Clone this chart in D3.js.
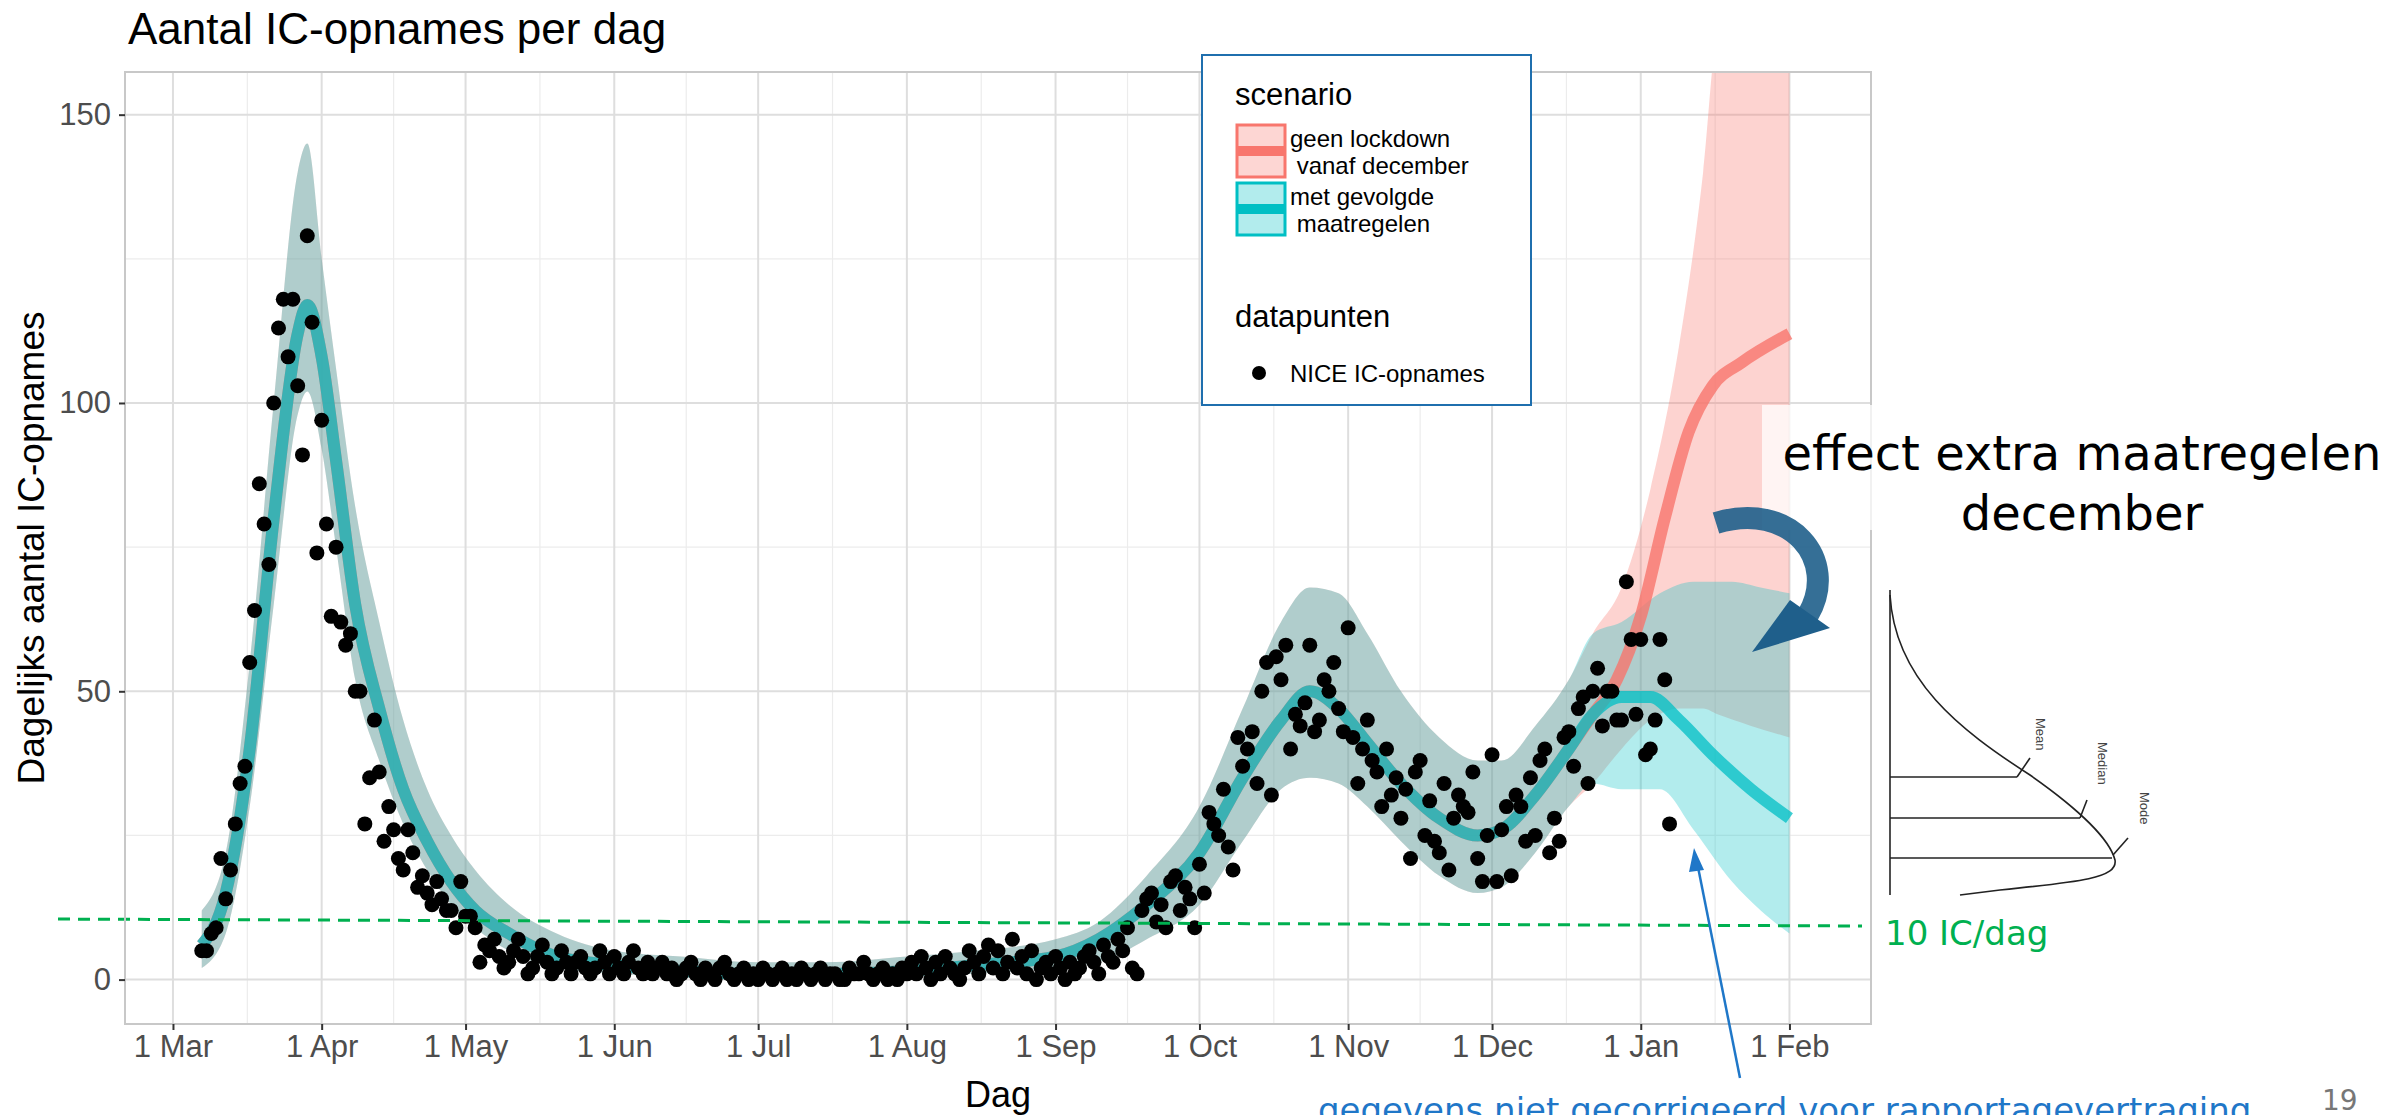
<!DOCTYPE html>
<html><head><meta charset="utf-8">
<script src="https://cdn.jsdelivr.net/npm/d3@7"></script>
<style>
body{margin:0;background:#fff;}
svg{font-family:"Liberation Sans",Arial,sans-serif;}
</style></head><body>
<svg id="chart" width="2397" height="1115"></svg>
<script>
// ---- data ----
const dotStart = '2020-03-07';
const dotValues = [
  5,5,8,9,21,14,19,27,34,37,55,64,86,79,72,100,113,118,108,118,103,91,129,114,74,
  97,79,63,75,62,58,60,50,50,27,35,45,36,24,30,26,21,19,26,22,16,18,15,13,17,14,12,12,9,17,
  11,11,9,3,6,5,7,4,2,3,5,7,4,1,2,4,6,3,1,2,5,3,1,3,4,2,1,2,5,3,1,
  4,2,1,3,5,2,1,3,1,2,3,1,2,0,1,2,3,1,0,2,1,0,2,3,1,0,1,2,0,1,
  0,2,1,0,1,2,0,1,0,2,1,0,1,2,0,1,1,0,0,2,1,1,3,1,0,1,2,0,1,0,2,
  1,3,1,4,2,0,3,1,4,2,1,0,2,5,3,1,4,6,2,5,1,3,7,2,4,1,5,0,2,3,1,
  4,2,0,3,1,2,4,5,3,1,6,4,3,7,5,9,2,1,12,14,15,10,13,9,17,18,12,16,14,9,
  20,15,29,27,25,33,23,19,42,37,40,43,34,50,55,32,56,52,58,40,46,44,48,58,43,45,52,50,55,47,43,
  61,42,34,40,45,38,36,30,40,32,35,28,33,21,36,38,25,31,24,22,34,19,28,32,30,29,36,21,17,25,
  39,17,26,30,18,32,30,24,35,25,38,40,22,28,24,42,43,37,47,49,34,50,54,44,50,50,45,45,69,59,46,
  59,39,40,45,59,52,27
];

// shared model fit (before scenarios split)
const fitDates = ['2020-03-07','2020-03-12','2020-03-17','2020-03-22','2020-03-27','2020-03-29','2020-04-01','2020-04-04','2020-04-08','2020-04-13','2020-04-18','2020-04-23','2020-04-28','2020-05-03','2020-05-10','2020-05-20','2020-06-01','2020-06-15','2020-07-01','2020-07-15','2020-08-01','2020-08-15','2020-09-01','2020-09-10','2020-09-20','2020-10-01','2020-10-10','2020-10-18','2020-10-24','2020-10-30','2020-11-05','2020-11-12','2020-11-20','2020-11-28','2020-12-03','2020-12-10','2020-12-17','2020-12-22'];
const fitMid = [6,15,40,80,112,117,108,90,65,47,33,24,17,12,8,4,2.5,1.5,1,1,1.5,2.5,4,7,13,22,35,45,50,47,41,34,28,25,26,32,40,46];
const fitLo  = [2,8,30,65,98,102,92,75,52,38,27,19,13,9,5,2,1,0.5,0,0,0.5,1,2,3,7,13,24,33,35,34,30,24,18,15,16,22,30,34];
const fitHi  = [12,22,55,100,140,145,125,106,82,62,45,33,25,19,13,8,5,4,3,3,4,5,7,10,18,30,47,62,68,67,60,50,42,38,38,44,52,60];

// scenario: geen lockdown vanaf december
const redDates = ['2020-12-22','2020-12-27','2021-01-01','2021-01-06','2021-01-11','2021-01-16','2021-01-22','2021-02-01'];
const redMid   = [46,52,63,80,95,103,107,112];
const redBandDates = ['2020-12-22','2020-12-28','2021-01-03','2021-01-09','2021-01-14','2021-01-17','2021-01-24','2021-02-01'];
const redLo = [34,40,45,47,47,46,44,42];
const redHi = [60,68,85,110,140,165,175,180];

// scenario: met gevolgde maatregelen
const tealDates = ['2020-12-22','2020-12-28','2021-01-03','2021-01-09','2021-01-16','2021-01-24','2021-02-01'];
const tealMid   = [46,49,49,45,39,33,28];
const tealBandDates = ['2020-12-22','2020-12-28','2021-01-05','2021-01-12','2021-01-20','2021-01-26','2021-02-01'];
const tealLo = [34,33,33,26,17,12,8];
const tealHi = [60,62,67,69,69,68,67];

const xTickDates = ['2020-03-01','2020-04-01','2020-05-01','2020-06-01','2020-07-01','2020-08-01','2020-09-01','2020-10-01','2020-11-01','2020-12-01','2021-01-01','2021-02-01'];
const xTickLabels = ['1 Mar','1 Apr','1 May','1 Jun','1 Jul','1 Aug','1 Sep','1 Oct','1 Nov','1 Dec','1 Jan','1 Feb'];
const yTicks = [0,50,100,150];
const thresholdValue = 10.5;

// ---- layout ----
const parse = d3.utcParse('%Y-%m-%d');
const svg = d3.select('#chart');
const margin = {left:125, top:72, right:526, bottom:91};
const W = 2397, H = 1115;

const x = d3.scaleUtc()
  .domain([parse('2020-02-20'), parse('2021-02-18')])
  .range([margin.left, W - margin.right]);
const y = d3.scaleLinear().domain([-7.7, 157.4]).range([H - margin.bottom, margin.top]);

const RED = '#F8766D', TEAL = '#00BFC4';

svg.append('defs').append('clipPath').attr('id','panel').append('rect')
  .attr('x', x.range()[0]).attr('y', y.range()[1])
  .attr('width', x.range()[1]-x.range()[0]).attr('height', y.range()[0]-y.range()[1]);

// grid
const grid = svg.append('g');
const minorX = xTickDates.slice(0,-1).map((d,i) => new Date((parse(d).getTime()+parse(xTickDates[i+1]).getTime())/2));
grid.selectAll('.mx').data(minorX).enter().append('line')
  .attr('x1',d=>x(d)).attr('x2',d=>x(d)).attr('y1',y.range()[1]).attr('y2',y.range()[0])
  .attr('stroke','#ececec').attr('stroke-width',1.2);
grid.selectAll('.my').data([25,75,125]).enter().append('line')
  .attr('y1',d=>y(d)).attr('y2',d=>y(d)).attr('x1',x.range()[0]).attr('x2',x.range()[1])
  .attr('stroke','#ececec').attr('stroke-width',1.2);
grid.selectAll('.gx').data(xTickDates.map(parse)).enter().append('line')
  .attr('x1',d=>x(d)).attr('x2',d=>x(d)).attr('y1',y.range()[1]).attr('y2',y.range()[0])
  .attr('stroke','#dedede').attr('stroke-width',2);
grid.selectAll('.gy').data(yTicks).enter().append('line')
  .attr('y1',d=>y(d)).attr('y2',d=>y(d)).attr('x1',x.range()[0]).attr('x2',x.range()[1])
  .attr('stroke','#dedede').attr('stroke-width',2);

// bands
const plot = svg.append('g').attr('clip-path','url(#panel)');
const area = d3.area().x(d=>x(d.t)).y0(d=>y(d.lo)).y1(d=>y(d.hi)).curve(d3.curveMonotoneX);
const line = d3.line().x(d=>x(d.t)).y(d=>y(d.v)).curve(d3.curveMonotoneX);

const shared = fitDates.map((d,i)=>({t:parse(d), lo:fitLo[i], hi:fitHi[i]}));
const redBand = shared.concat(redBandDates.slice(1).map((d,i)=>({t:parse(d), lo:redLo[i+1], hi:redHi[i+1]})));
const tealBand = shared.concat(tealBandDates.slice(1).map((d,i)=>({t:parse(d), lo:tealLo[i+1], hi:tealHi[i+1]})));

plot.append('path').datum(redBand).attr('d',area).attr('fill',RED).attr('opacity',0.32);
plot.append('path').datum(tealBand).attr('d',area).attr('fill',TEAL).attr('opacity',0.3);

const sharedLine = fitDates.map((d,i)=>({t:parse(d), v:fitMid[i]}));
const redLine = sharedLine.concat(redDates.slice(1).map((d,i)=>({t:parse(d), v:redMid[i+1]})));
const tealLine = sharedLine.concat(tealDates.slice(1).map((d,i)=>({t:parse(d), v:tealMid[i+1]})));
plot.append('path').datum(redLine).attr('d',line).attr('fill','none').attr('stroke',RED).attr('stroke-width',12).attr('opacity',0.8);
plot.append('path').datum(tealLine).attr('d',line).attr('fill','none').attr('stroke',TEAL).attr('stroke-width',12).attr('opacity',0.75);

// threshold
svg.append('line').attr('x1',58).attr('x2',1862).attr('y1',y(thresholdValue)).attr('y2',y(thresholdValue-1.2))
  .attr('stroke','#00b050').attr('stroke-width',3).attr('stroke-dasharray','12,8');

// dots
const t0 = parse(dotStart);
plot.selectAll('.dot').data(dotValues).enter().append('circle')
  .attr('cx',(v,i)=>x(d3.utcDay.offset(t0,i))).attr('cy',v=>y(v)).attr('r',7.5).attr('fill','#000');

// panel border
svg.append('rect').attr('x',x.range()[0]).attr('y',y.range()[1])
  .attr('width',x.range()[1]-x.range()[0]).attr('height',y.range()[0]-y.range()[1])
  .attr('fill','none').attr('stroke','#c8c8c8').attr('stroke-width',2);

// axes
const xAxis = svg.append('g').attr('transform',`translate(0,${H-margin.bottom})`)
  .call(d3.axisBottom(x).tickValues(xTickDates.map(parse)).tickFormat((d,i)=>xTickLabels[i]).tickSize(6).tickPadding(5));
const yAxis = svg.append('g').attr('transform',`translate(${margin.left},0)`)
  .call(d3.axisLeft(y).tickValues(yTicks).tickSize(6).tickPadding(8));
[xAxis,yAxis].forEach(a=>{
  a.select('.domain').remove();
  a.selectAll('.tick line').attr('stroke','#333').attr('stroke-width',2);
  a.selectAll('text').attr('fill','#4d4d4d').style('font-size','31px').style('font-family','"Liberation Sans",Arial,sans-serif');
});

// titles
svg.append('text').attr('x',128).attr('y',44).style('font-size','44px').attr('fill','#000').text('Aantal IC-opnames per dag');
svg.append('text').attr('x',998).attr('y',1107).attr('text-anchor','middle').style('font-size','36px').text('Dag');
svg.append('text').attr('transform',`translate(44,${(y.range()[0]+y.range()[1])/2}) rotate(-90)`)
  .attr('text-anchor','middle').style('font-size','37px').text('Dagelijks aantal IC-opnames');

// legend
const lg = svg.append('g').attr('transform','translate(1202,55)');
lg.append('rect').attr('width',329).attr('height',350).attr('fill','#fff').attr('stroke','#1f6fae').attr('stroke-width',2);
lg.append('text').attr('x',33).attr('y',50).style('font-size','31px').text('scenario');
[[RED,'geen lockdown',' vanaf december',70],[TEAL,'met gevolgde',' maatregelen',128]].forEach(([c,a,b,yy])=>{
  lg.append('rect').attr('x',35).attr('y',yy).attr('width',48).attr('height',52).attr('fill',c).attr('fill-opacity',0.3).attr('stroke',c).attr('stroke-width',3);
  lg.append('line').attr('x1',35).attr('x2',83).attr('y1',yy+26).attr('y2',yy+26).attr('stroke',c).attr('stroke-width',10);
  lg.append('text').attr('x',88).attr('y',yy+22).style('font-size','24px').text(a);
  lg.append('text').attr('x',88).attr('y',yy+49).style('font-size','24px').attr('xml:space','preserve').text(b);
});
lg.append('text').attr('x',33).attr('y',272).style('font-size','31px').text('datapunten');
lg.append('circle').attr('cx',57).attr('cy',318).attr('r',7);
lg.append('text').attr('x',88).attr('y',327).style('font-size','24px').text('NICE IC-opnames');

// annotations
const ann = "'DejaVu Sans',Verdana,sans-serif";
svg.append('rect').attr('x',1762).attr('y',405).attr('width',110).attr('height',125).attr('fill','#fff').attr('opacity',0.75);
svg.append('text').attr('x',2082).attr('y',470).attr('text-anchor','middle').style('font-family',ann).style('font-size','48px').text('effect extra maatregelen');
svg.append('text').attr('x',2082).attr('y',530).attr('text-anchor','middle').style('font-family',ann).style('font-size','48px').text('december');

// curved arrow
svg.append('path').attr('d','M1716,523 C1790,500 1840,560 1808,615')
  .attr('fill','none').attr('stroke','#1f5f8b').attr('stroke-width',22).attr('opacity',0.9);
svg.append('path').attr('d','M1752,652 L1790,600 L1830,628 Z').attr('fill','#1f5f8b');

svg.append('text').attr('x',1885).attr('y',945).style('font-family',ann).style('font-size','34px').attr('fill','#00b050').text('10 IC/dag');

// blue note + arrow
svg.append('line').attr('x1',1740).attr('y1',1078).attr('x2',1697).attr('y2',862).attr('stroke','#1f77c8').attr('stroke-width',2.5);
svg.append('path').attr('d','M1694,848 L1689,872 L1704,870 Z').attr('fill','#1f77c8');
svg.append('text').attr('x',1318).attr('y',1122).style('font-family',ann).style('font-size','34px').attr('fill','#1f77c8').text('gegevens niet gecorrigeerd voor rapportagevertraging');
svg.append('text').attr('x',2322).attr('y',1110).style('font-family',ann).style('font-size','28px').attr('fill','#777').text('19');

// skewed distribution sketch
const sk = svg.append('g').attr('stroke','#222').attr('fill','none').attr('stroke-width',1.6);
sk.append('line').attr('x1',1890).attr('x2',1890).attr('y1',590).attr('y2',895);
sk.append('path').attr('d','M1890,595 C1895,680 1960,730 2030,775 C2080,810 2110,840 2115,860 C2118,878 2080,882 2000,890 L1960,895');
[[777,2017],[818,2080],[858,2112]].forEach(([yy,xx])=>sk.append('line').attr('x1',1890).attr('x2',xx).attr('y1',yy).attr('y2',yy));
sk.append('line').attr('x1',2017).attr('y1',777).attr('x2',2030).attr('y2',758);
sk.append('line').attr('x1',2080).attr('y1',818).attr('x2',2087).attr('y2',800);
sk.append('line').attr('x1',2113).attr('y1',855).attr('x2',2128).attr('y2',838);
[['Mean',2036,718],['Median',2098,742],['Mode',2140,792]].forEach(([t,xx,yy])=>
  svg.append('text').attr('transform',`translate(${xx},${yy}) rotate(90)`).style('font-size','13px').attr('fill','#444').text(t));
</script>
</body></html>
